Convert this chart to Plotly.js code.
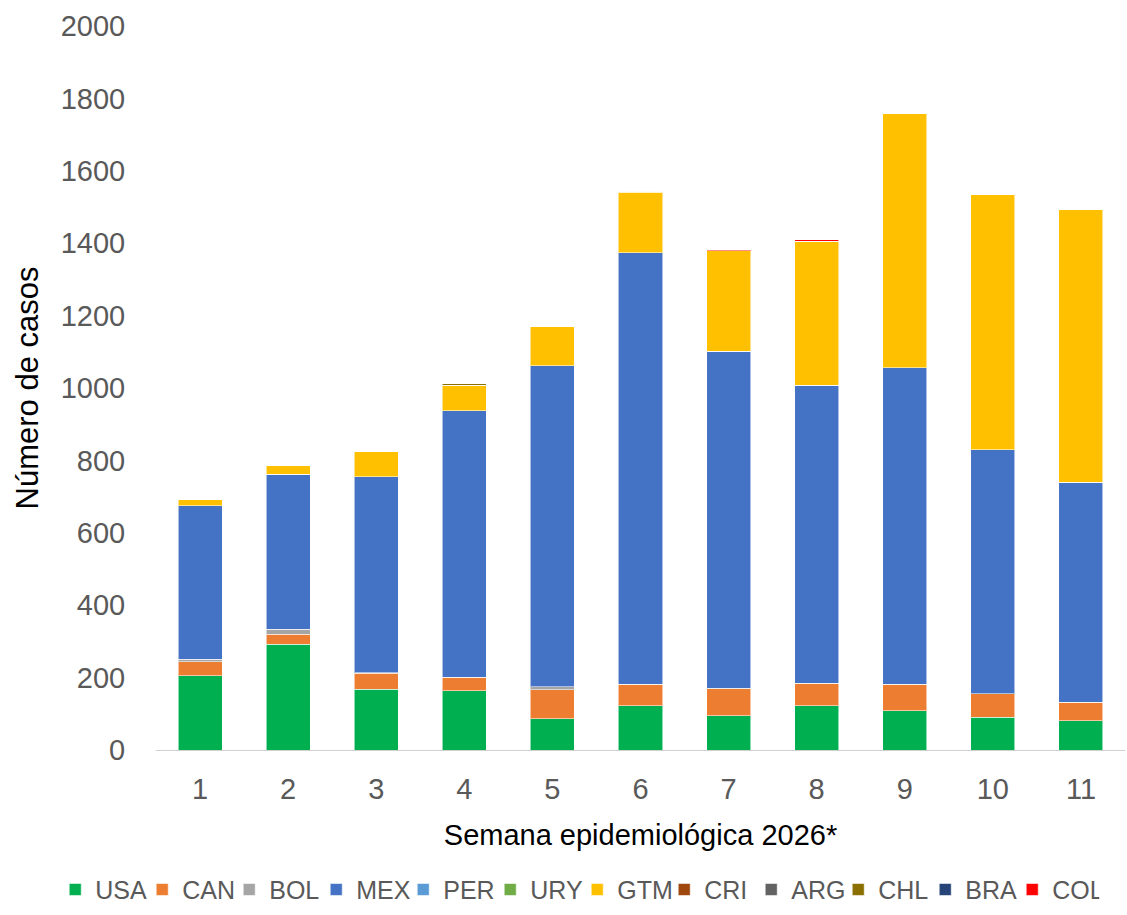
<!DOCTYPE html>
<html>
<head>
<meta charset="utf-8">
<script src="https://cdn.plot.ly/plotly-3.0.1.min.js"></script>
<style>html,body{margin:0;padding:0;background:#ffffff;}#chart{width:1127px;height:915px;}</style>
</head>
<body>
<div id="chart"></div>
<script>
const weeks = ["1","2","3","4","5","6","7","8","9","10","11"];
const USA = [205, 292, 168, 164, 87, 122, 95, 122, 109, 90, 81];
const CAN = [39, 28, 44, 37, 79, 59, 74, 62, 72, 65, 51];
const BOL = [7, 14, 2, 0, 9, 0, 2, 0, 0, 0, 0];
const MEX = [424, 428, 541, 736, 886, 1193, 930, 824, 875, 675, 608];
const PER = [0, 0, 0, 0, 0, 0, 0, 0, 0, 0, 0];
const URY = [0, 0, 0, 0, 0, 0, 0, 0, 0, 0, 0];
const GTM = [16, 25, 69, 71, 110, 167, 278, 398, 703, 704, 754];
const CRI = [0, 0, 0, 0, 0, 2, 0, 0, 0, 0, 0];
const ARG = [0, 0, 0, 0, 0, 0, 0, 0, 0, 0, 0];
const CHL = [0, 0, 0, 4, 0, 0, 0, 0, 0, 0, 0];
const BRA = [0, 0, 0, 0, 0, 0, 0, 0, 0, 0, 0];
const COL = [0, 0, 0, 0, 0, 2, 3, 3, 0, 0, 0];

const seriesNames = ["USA","CAN","BOL","MEX","PER","URY","GTM","CRI","ARG","CHL","BRA","COL"];
const seriesValues = [USA, CAN, BOL, MEX, PER, URY, GTM, CRI, ARG, CHL, BRA, COL];
const seriesColors = ["#00B050","#ED7D31","#A5A5A5","#4472C4","#5B9BD5","#70AD47","#FFC000","#9E480E","#636363","#8B6F00","#264478","#FF0000"];

const traces = seriesNames.map((n, i) => ({
  type: 'bar',
  name: n,
  x: weeks,
  y: seriesValues[i],
  marker: {color: seriesColors[i], line: {color: 'rgba(255,255,255,0.55)', width: 1}},
  hoverinfo: 'x+y+name'
}));

const layout = {
  width: 1127, height: 915,
  margin: {l: 156, r: 2, t: 26, b: 165},
  paper_bgcolor: '#ffffff',
  plot_bgcolor: 'rgba(0,0,0,0)',
  barmode: 'stack',
  bargap: 0.5,
  font: {family: 'Liberation Sans, Arial, sans-serif', color: '#595959'},
  xaxis: {
    type: 'category',
    showgrid: false,
    zeroline: false,
    showline: true,
    linecolor: '#d0d0d0',
    linewidth: 1,
    ticks: 'outside', ticklen: 13, tickcolor: 'rgba(0,0,0,0)',
    tickfont: {size: 29, color: '#595959'},
    title: {text: 'Semana epidemiológica 2026*', font: {size: 29, color: '#000000'}, standoff: 20}
  },
  yaxis: {
    range: [0, 2000],
    dtick: 200,
    showgrid: false,
    zeroline: false,
    showline: false,
    ticks: 'outside', ticklen: 24, tickcolor: 'rgba(0,0,0,0)',
    tickfont: {size: 29, color: '#595959'},
    title: {text: 'Número de casos', font: {size: 31, color: '#000000'}, standoff: 12}
  },
  legend: {
    orientation: 'h',
    x: -0.104, xanchor: 'left',
    y: -0.193, yanchor: 'middle',
    font: {family: 'Liberation Sans, Arial, sans-serif', size: 25, color: '#595959'},
    itemwidth: 30,
    entrywidth: 42,
    entrywidthmode: 'pixels',
    tracegroupgap: 0,
    traceorder: 'normal',
    bgcolor: 'rgba(0,0,0,0)'
  },
  showlegend: true
};

Plotly.newPlot('chart', traces, layout, {displayModeBar: false, staticPlot: true});
</script>
</body>
</html>
